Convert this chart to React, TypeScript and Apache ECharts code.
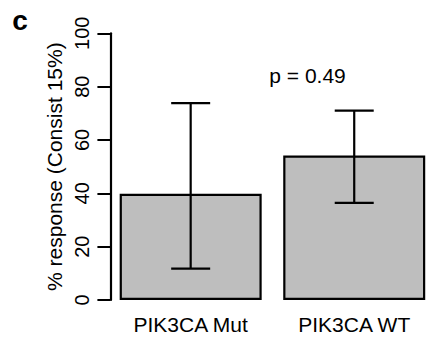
import React, { useEffect, useRef } from "react";
import * as echarts from "echarts";

const categories = ["PIK3CA Mut", "PIK3CA WT"];
const means = [39.8, 54.2];
const lower = [11.8, 36.4];
const upper = [73.8, 71.0];
const yTicks = [0, 20, 40, 60, 80, 100];
const pLabel = "p = 0.49";
const panelLabel = "c";
const yTitle = "% response (Consist 15%)";

const FONT = "Liberation Sans, Arial, Helvetica, sans-serif";

export default function App() {
  const ref = useRef<HTMLDivElement>(null);
  useEffect(() => {
    if (!ref.current) return;
    const chart = echarts.init(ref.current, null, { renderer: "svg" });
    const errData = categories.map((c, i) => [i, lower[i], upper[i]]);
    chart.setOption({
      animation: false,
      backgroundColor: "#ffffff",
      textStyle: { fontFamily: FONT },
      grid: { left: 108.9, top: 33.3, height: 266.7, width: 341.2 },
      xAxis: {
        type: "category",
        data: categories,
        axisLine: { show: false },
        axisTick: { show: false },
        axisLabel: { color: "#000", fontSize: 21, fontFamily: FONT, margin: 14 },
      },
      yAxis: {
        type: "value",
        min: yTicks[0],
        max: yTicks[yTicks.length - 1],
        interval: 20,
        offset: -1.5,
        name: yTitle,
        nameLocation: "middle",
        nameRotate: 90,
        nameGap: 36,
        nameTextStyle: { color: "#000", fontSize: 21, fontFamily: FONT },
        splitLine: { show: false },
        axisLine: { show: true, lineStyle: { color: "#000", width: 2.2 } },
        axisTick: { show: true, length: 13, lineStyle: { color: "#000", width: 2 } },
        axisLabel: { color: "#000", fontSize: 20, fontFamily: FONT, rotate: 90, margin: 18 },
      },
      series: [
        {
          type: "bar",
          data: means,
          barWidth: 142,
          itemStyle: { color: "#bebebe", borderColor: "#000", borderWidth: 2.2 },
          silent: true,
        },
        {
          type: "custom",
          data: errData,
          silent: true,
          renderItem: (params: any, api: any) => {
            const i = api.value(0);
            const lo = api.coord([i, api.value(1)]);
            const hi = api.coord([i, api.value(2)]);
            const hw = 19.5;
            const style = { stroke: "#000", lineWidth: 2.2 };
            return {
              type: "group",
              children: [
                { type: "line", shape: { x1: lo[0], y1: lo[1], x2: hi[0], y2: hi[1] }, style },
                { type: "line", shape: { x1: hi[0] - hw, y1: hi[1], x2: hi[0] + hw, y2: hi[1] }, style },
                { type: "line", shape: { x1: lo[0] - hw, y1: lo[1], x2: lo[0] + hw, y2: lo[1] }, style },
              ],
            };
          },
          z: 10,
        },
      ],
      graphic: [
        {
          type: "text",
          x: 307.5,
          y: 75,
          style: { text: pLabel, fontSize: 21, fontFamily: FONT, fill: "#000", align: "center", verticalAlign: "middle" },
        },
        {
          type: "text",
          x: 20,
          y: 20,
          style: { text: panelLabel, fontSize: 28, fontWeight: "bold", fontFamily: FONT, fill: "#000", align: "center", verticalAlign: "middle" },
        },
      ],
    });
    return () => chart.dispose();
  }, []);
  return <div ref={ref} style={{ width: 436, height: 339, position: "absolute", left: 0, top: 0 }} />;
}
